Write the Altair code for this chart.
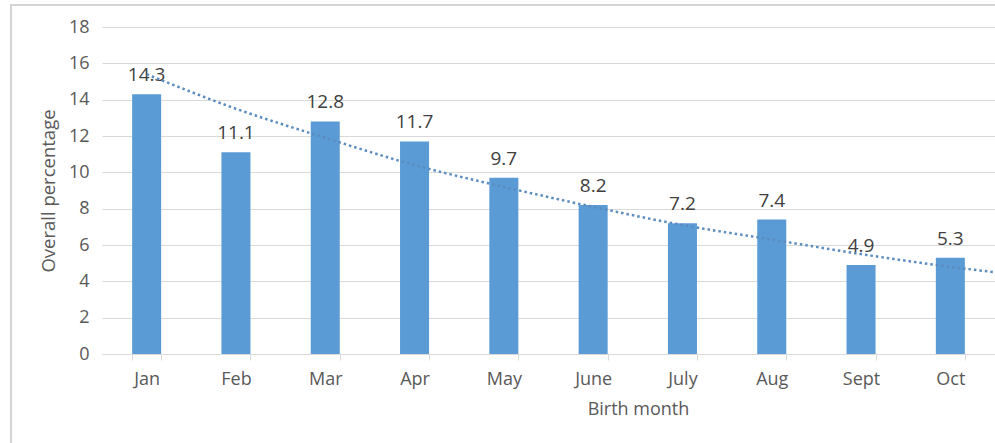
import altair as alt
import pandas as pd

months = ["Jan", "Feb", "Mar", "Apr", "May", "June", "July", "Aug", "Sept", "Oct"]
values = [14.3, 11.1, 12.8, 11.7, 9.7, 8.2, 7.2, 7.4, 4.9, 5.3]

# dotted trendline at each month position (and the right edge)
trend_pos = [1, 2, 3, 4, 5, 6, 7, 8, 9, 10, 10.5]
trend_val = [15.4, 13.5, 11.9, 10.4, 9.2, 8.1, 7.1, 6.3, 5.5, 4.8, 4.5]

y_ticks = [0, 2, 4, 6, 8, 10, 12, 14, 16, 18]

df = pd.DataFrame({"month": months, "value": values})
tdf = pd.DataFrame({"pos": trend_pos, "trend": trend_val})

FONT = "Open Sans"
BLUE = "#5B9BD5"
GRID = "#d9d9d9"
W, H = 893, 327

yscale = alt.Scale(domain=[0, 18], nice=False)
xscale = alt.Scale(paddingInner=0.675, paddingOuter=0.3375)

yaxis = alt.Axis(
    title="Overall percentage",
    values=y_ticks,
    tickCount=10,
    labelOverlap=False,
    labelFont=FONT,
    labelFontSize=18,
    labelColor="#595959",
    labelPadding=13,
    domain=False,
    ticks=False,
    gridColor=GRID,
    titleFont=FONT,
    titleFontSize=18.5,
    titleFontWeight="normal",
    titleColor="#595959",
    titleX=-54,
    titleY=H / 2,
    titleAlign="center",
    titleBaseline="middle",
)

frame = alt.Chart(df).mark_rect(fill=None, stroke="#d4d4d4", strokeWidth=2).encode(
    x=alt.value(-91), x2=alt.value(W + 50), y=alt.value(-22), y2=alt.value(H + 150)
)

xenc = alt.X(
    "month:N",
    sort=months,
    scale=xscale,
    axis=alt.Axis(
        title="Birth month",
        labelAngle=0,
        labelFont=FONT,
        labelFontSize=18,
        labelColor="#595959",
        labelPadding=10,
        domainColor=GRID,
        tickColor=GRID,
        tickSize=6,
        tickBand="extent",
        titleFont=FONT,
        titleFontSize=18,
        titleFontWeight="normal",
        titleColor="#595959",
        titleX=536,
        titleY=55,
        titleAlign="center",
        titleBaseline="middle",
    ),
)

bars = alt.Chart(df).mark_bar(color=BLUE).encode(
    x=xenc, y=alt.Y("value:Q", scale=yscale, axis=yaxis)
)

labels = alt.Chart(df).mark_text(
    font=FONT, fontSize=19, color="#404040", baseline="alphabetic", dy=-13
).encode(
    x=alt.X("month:N", sort=months, scale=xscale, axis=None),
    y=alt.Y("value:Q", scale=yscale, axis=yaxis),
    text=alt.Text("value:Q", format=".1f"),
)

trend = alt.Chart(tdf).mark_line(
    color="#5a8cc0", strokeWidth=2.5, strokeDash=[2.5, 3], interpolate="monotone"
).encode(
    x=alt.X("pos:Q", scale=alt.Scale(domain=[0.5, 10.5], nice=False, zero=False), axis=None),
    y=alt.Y("trend:Q", scale=yscale, axis=yaxis),
)

chart = (
    alt.layer(frame, bars, labels, trend)
    .resolve_scale(x="independent")
    .properties(
        width=W,
        height=H,
        autosize=alt.AutoSizeParams(type="none"),
        padding={"left": 102, "top": 27, "right": 0, "bottom": 89},
        background="white",
    )
    .configure_view(stroke=None)
)

chart.save("out.html", embed_options={"renderer": "svg", "actions": False})
